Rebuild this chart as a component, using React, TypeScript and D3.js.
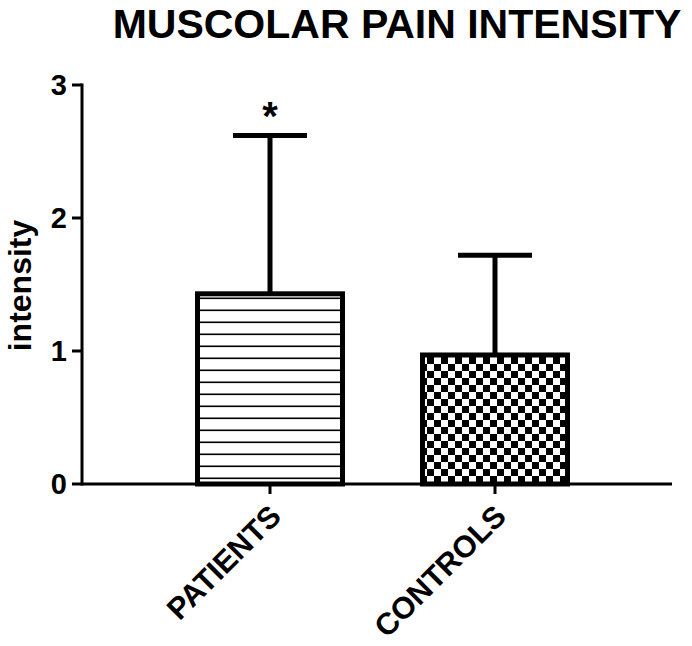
import React from "react";
import * as d3 from "d3";

const categories = ["PATIENTS", "CONTROLS"];
const means = [1.43, 0.97];
const sds = [1.19, 0.75];
const yTicks = [0, 1, 2, 3];
const title = "MUSCOLAR PAIN INTENSITY";
const yLabel = "intensity";
const significance = ["*", ""];

export default function App() {
  const W = 692, H = 646;
  const axisX = 82, axisRight = 672;
  const y = d3.scaleLinear().domain([0, 3]).range([484, 85]);
  const x = d3.scalePoint<string>().domain(categories).range([270, 495]);
  const barW = 145;
  const capW = 74;
  const font = "'Liberation Sans', Arial, sans-serif";
  return (
    <svg width={W} height={H} style={{ position: "absolute", left: 0, top: 0, background: "#fff" }} fontFamily={font}>
      <defs>
        <pattern id="hlines" patternUnits="userSpaceOnUse" width="12" height="12" y="0">
          <rect width="12" height="12" fill="#fff" />
          <rect y="9.5" width="12" height="1.6" fill="#000" />
        </pattern>
        <pattern id="checker" patternUnits="userSpaceOnUse" width="14" height="14">
          <rect width="14" height="14" fill="#fff" />
          <rect width="7" height="7" fill="#000" />
          <rect x="7" y="7" width="7" height="7" fill="#000" />
        </pattern>
      </defs>
      <rect width={W} height={H} fill="#fff" />
      <text x={397} y={38} textAnchor="middle" fontSize={41} fontWeight="bold">{title}</text>
      {categories.map((c, i) => {
        const cx = x(c)!;
        const top = y(means[i]);
        const errTop = y(means[i] + sds[i]);
        return (
          <g key={c}>
            <line x1={cx} x2={cx} y1={top} y2={errTop} stroke="#000" strokeWidth={5} />
            <line x1={cx - capW / 2} x2={cx + capW / 2} y1={errTop} y2={errTop} stroke="#000" strokeWidth={5} />
            <rect x={cx - barW / 2} y={top} width={barW} height={y(0) - top}
              fill={i === 0 ? "url(#hlines)" : "url(#checker)"} stroke="#000" strokeWidth={5} />
            {significance[i] && (
              <text x={cx} y={errTop - 6} textAnchor="middle" fontSize={40} fontWeight="bold">{significance[i]}</text>
            )}
          </g>
        );
      })}
      <line x1={axisX} x2={axisX} y1={y(3) - 1.5} y2={y(0) + 1.5} stroke="#000" strokeWidth={3} />
      {yTicks.map((t) => (
        <g key={t}>
          <line x1={axisX - 10} x2={axisX} y1={y(t)} y2={y(t)} stroke="#000" strokeWidth={3} />
          <text x={axisX - 15} y={y(t)} dy="0.36em" textAnchor="end" fontSize={29} fontWeight="bold">{t}</text>
        </g>
      ))}
      <line x1={axisX} x2={axisRight} y1={y(0)} y2={y(0)} stroke="#000" strokeWidth={3} />
      {categories.map((c) => (
        <g key={c}>
          <line x1={x(c)!} x2={x(c)!} y1={y(0)} y2={y(0) + 10} stroke="#000" strokeWidth={3} />
          <text transform={`translate(${x(c)! + 13},${y(0) + 34}) rotate(-45)`} textAnchor="end" fontSize={30.5} fontWeight="bold">{c}</text>
        </g>
      ))}
      <text transform={`translate(31,${(y(0) + y(3)) / 2 + 1}) rotate(-90)`} textAnchor="middle" fontSize={32} fontWeight="bold">{yLabel}</text>
    </svg>
  );
}
